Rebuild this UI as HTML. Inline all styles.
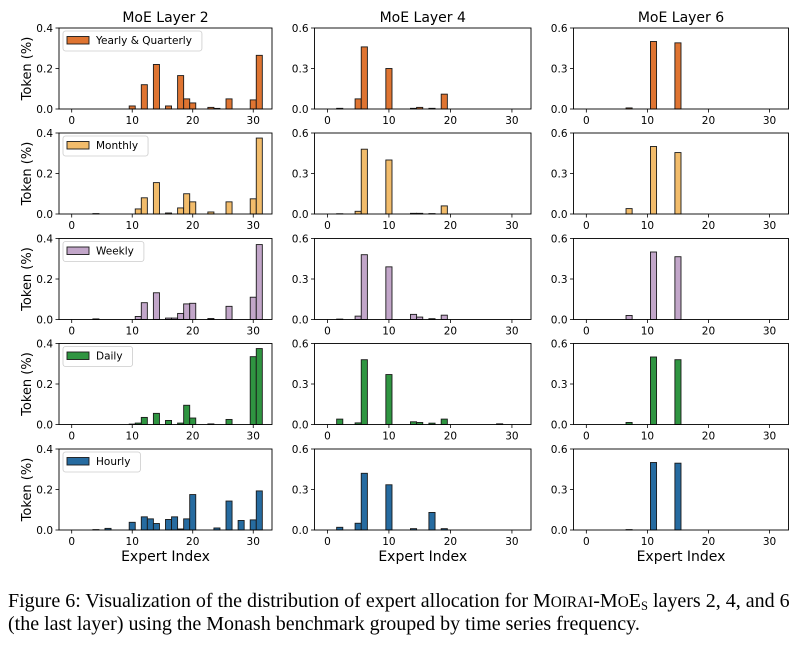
<!DOCTYPE html>
<html><head><meta charset="utf-8"><style>
body{margin:0;background:#fff;}
svg text{font-family:"DejaVu Sans","Liberation Sans",sans-serif;fill:#000;}
.cap{font-family:"Liberation Serif",serif;font-size:20px;fill:#000;}
</style></head><body>
<svg id="fig" width="811" height="646" viewBox="0 0 811 646" xmlns="http://www.w3.org/2000/svg">
<text class="cap" x="8" y="607" style="font-family:'Liberation Serif',serif;font-size:20px">Figure 6: Visualization of the distribution of expert allocation for M<tspan font-size="15.3">OIRAI</tspan>-M<tspan font-size="15.3">O</tspan>E<tspan font-size="12.5" dy="3">S</tspan><tspan dy="-3"> layers 2, 4, and 6</tspan></text>
<text class="cap" x="8" y="630" style="font-family:'Liberation Serif',serif;font-size:20px">(the last layer) using the Monash benchmark grouped by time series frequency.</text>
</svg>
<script>
const freqNames = ["Yearly & Quarterly","Monthly","Weekly","Daily","Hourly"];
const layerTitles = ["MoE Layer 2","MoE Layer 4","MoE Layer 6"];
const yMaxes = [0.4,0.6,0.6];
const yTicksL2 = [0.0,0.2,0.4];
const yTicksL46 = [0.0,0.3,0.6];
const xTicks = [0,10,20,30];
// sparse values: [expertIndex, value]
const l2Yearly = [[10,0.015],[12,0.12],[14,0.22],[16,0.015],[18,0.165],[19,0.05],[20,0.03],[23,0.008],[24,0.003],[26,0.05],[30,0.045],[31,0.265]];
const l2Monthly = [[4,0.002],[11,0.025],[12,0.08],[14,0.155],[16,0.005],[18,0.03],[19,0.10],[20,0.06],[23,0.01],[26,0.06],[30,0.075],[31,0.375]];
const l2Weekly = [[4,0.003],[11,0.015],[12,0.083],[14,0.132],[16,0.007],[17,0.007],[18,0.03],[19,0.077],[20,0.08],[23,0.005],[26,0.065],[30,0.11],[31,0.37]];
const l2Daily = [[10,0.002],[11,0.007],[12,0.035],[14,0.055],[16,0.02],[18,0.007],[19,0.095],[20,0.032],[23,0.003],[26,0.025],[30,0.335],[31,0.375]];
const l2Hourly = [[4,0.002],[6,0.008],[10,0.038],[12,0.065],[13,0.055],[14,0.032],[16,0.052],[17,0.065],[18,0.005],[19,0.055],[20,0.175],[24,0.01],[26,0.143],[28,0.047],[30,0.05],[31,0.193]];
const l4Yearly = [[2,0.005],[5,0.075],[6,0.46],[10,0.30],[14,0.005],[15,0.012],[17,0.005],[19,0.11]];
const l4Monthly = [[2,0.002],[5,0.02],[6,0.48],[10,0.40],[14,0.005],[15,0.005],[17,0.003],[19,0.06]];
const l4Weekly = [[2,0.003],[5,0.025],[6,0.48],[10,0.39],[14,0.038],[15,0.018],[17,0.006],[19,0.032]];
const l4Daily = [[2,0.04],[5,0.012],[6,0.48],[10,0.37],[14,0.02],[15,0.015],[17,0.01],[19,0.04],[28,0.005]];
const l4Hourly = [[2,0.02],[5,0.05],[6,0.42],[10,0.335],[14,0.01],[17,0.13],[19,0.01]];
const l6Yearly = [[7,0.008],[11,0.50],[15,0.49]];
const l6Monthly = [[7,0.04],[11,0.50],[15,0.455]];
const l6Weekly = [[7,0.03],[11,0.50],[15,0.465]];
const l6Daily = [[7,0.015],[11,0.50],[15,0.48]];
const l6Hourly = [[7,0.003],[11,0.50],[15,0.495]];

const data = [
 [l2Yearly,l4Yearly,l6Yearly],
 [l2Monthly,l4Monthly,l6Monthly],
 [l2Weekly,l4Weekly,l6Weekly],
 [l2Daily,l4Daily,l6Daily],
 [l2Hourly,l4Hourly,l6Hourly]];
const colors = ["#df7431","#f2bc6b","#c2a6c9","#2f9541","#266ba0"];
const colLeft=[59,314.5,573.5], colRight=[272,531,788.5];
const rowTop=[28,133,238.5,343.5,449], plotH=81;
const xMin=-2.1,xMax=33.1;
const NS="http://www.w3.org/2000/svg";
const svg=document.getElementById('fig');
function mk(tag,attrs,parent){const e=document.createElementNS(NS,tag);for(const k in attrs)e.setAttribute(k,attrs[k]);(parent||svg).appendChild(e);return e;}
function txt(s,attrs,parent){const e=mk('text',attrs,parent);e.textContent=s;return e;}

for(let c=0;c<3;c++){
  const cx=(colLeft[c]+colRight[c])/2;
  const t=txt(layerTitles[c],{x:cx,y:22,'text-anchor':'middle','font-size':14});
  
  
  const xl=txt('Expert Index',{x:cx,y:561,'text-anchor':'middle','font-size':14});
  
  
}
for(let r=0;r<5;r++){
  const yl=txt('Token (%)',{x:0,y:0,'text-anchor':'middle','font-size':13,transform:`translate(31,${rowTop[r]+plotH/2}) rotate(-90)`});
  
  
  for(let c=0;c<3;c++){
    const L=colLeft[c],R=colRight[c],T=rowTop[r],B=T+plotH,ym=yMaxes[c];
    const xs=v=>L+(v-xMin)/(xMax-xMin)*(R-L);
    const ys=v=>B-v/ym*plotH;
    const g=mk('g',{});
    
    
    for(const [i,v] of data[r][c]){
      const x0=xs(i-0.5),x1=xs(i+0.5);
      const b=mk('rect',{x:x0,y:ys(v),width:x1-x0,height:B-ys(v),fill:colors[r],stroke:'#1a1a1a','stroke-width':0.9},g);
      
      
    }
    mk('rect',{x:L,y:T,width:R-L,height:plotH,fill:'none',stroke:'#000','stroke-width':0.9},g);
    const yt=c===0?yTicksL2:yTicksL46;
    for(const v of yt){
      mk('line',{x1:L-3.5,x2:L,y1:ys(v),y2:ys(v),stroke:'#000','stroke-width':0.8},g);
      const tl=txt(v.toFixed(1),{x:L-6,y:ys(v)+3.8,'text-anchor':'end','font-size':10.5},g);
      
      
    }
    for(const v of xTicks){
      mk('line',{x1:xs(v),x2:xs(v),y1:B,y2:B+3.5,stroke:'#000','stroke-width':0.8},g);
      const tl=txt(String(v),{x:xs(v),y:B+15,'text-anchor':'middle','font-size':10.5},g);
      
      
    }
    if(c===0){
      const lg=mk('g',{},g);
      
      
      const lt=txt(freqNames[r],{x:L+37,y:T+16,'font-size':10.5},lg);
      const w=37+lt.getComputedTextLength()+6;
      const box=mk('rect',{x:L+4,y:T+3,width:w,height:20,rx:2.5,fill:'#fff',stroke:'#ccc','stroke-width':0.8},lg);
      lg.insertBefore(box,lt);
      const p=mk('rect',{x:L+8,y:T+8.5,width:22,height:7.5,fill:colors[r],stroke:'#1a1a1a','stroke-width':0.9},lg);
      lg.insertBefore(p,lt);
    }
  }
}
</script>
</body></html>
